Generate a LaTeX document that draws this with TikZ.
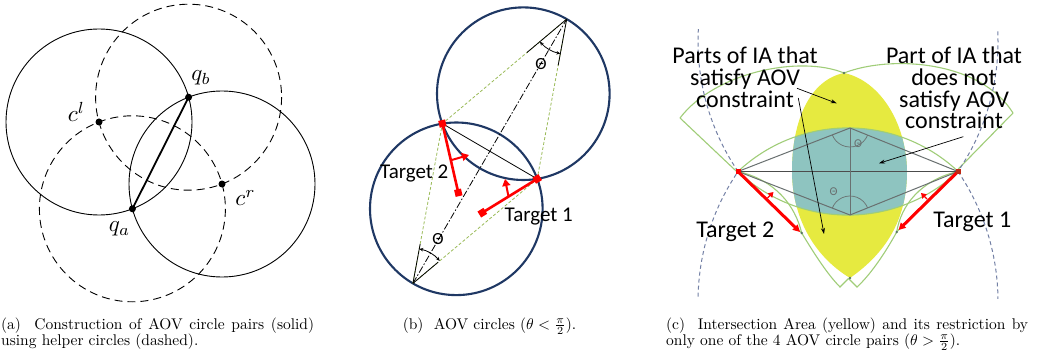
\documentclass[tikz,border=0pt]{standalone}
\usepackage{graphicx}
\usepackage{fontspec}
\newfontfamily\carlito{Carlito}
\usetikzlibrary{calc,arrows.meta}
\definecolor{navy}{RGB}{31,56,100}
\definecolor{olivegreen}{RGB}{155,187,89}
\definecolor{iayellow}{RGB}{230,234,64}
\definecolor{iateal}{RGB}{142,196,192}
\definecolor{lgreen}{RGB}{160,205,120}
\definecolor{rgray}{RGB}{105,112,112}
\definecolor{bgray}{RGB}{115,128,165}
\definecolor{dkred}{RGB}{190,40,20}
\definecolor{dotgreen}{RGB}{90,120,100}
\tikzset{
  solidc/.style={draw=black, line width=0.9},
  helperc/.style={draw=black, line width=0.9, dash pattern=on 8pt off 5pt},
  dotpt/.style={circle, fill=black, inner sep=0, minimum size=7},
  mathlbl/.style={inner sep=0, font=\normalsize},
  aovc/.style={draw=navy, line width=2.1},
  gdash/.style={draw=olivegreen, line width=0.8, dash pattern=on 3pt off 2pt},
  wing/.style={draw=black, line width=0.8},
  angarc/.style={draw=black, line width=0.8, {Stealth[length=4pt,width=3.5pt]}-{Stealth[length=4pt,width=3.5pt]}},
  redseg/.style={draw=red, line width=2.6},
  redmark/.style={rectangle, fill=red, inner sep=0, minimum size=7},
  redtip/.style={draw=red, line width=2, -{Triangle[length=7pt,width=8pt]}},
  tlabel/.style={inner sep=0, font=\carlito\fontsize{21}{21}\selectfont},
  thetalbl/.style={inner sep=0, font=\carlito\fontsize{17}{17}\selectfont},
  bdash/.style={draw=bgray, line width=1, dash pattern=on 4pt off 3pt},
  lgreenl/.style={draw=lgreen, line width=1.1},
  rhomb/.style={draw=rgray, line width=1},
  ctext/.style={inner sep=0, font=\carlito\fontsize{24}{21.7}\selectfont},
  smalltheta/.style={inner sep=0, text=rgray, font=\carlito\fontsize{12}{12}\selectfont},
  blkarrow/.style={draw=black, line width=0.7, -{Stealth[length=6pt,width=4pt]}},
  capfont/.style={inner sep=0, font=\normalsize},
}
\begin{document}
\begin{tikzpicture}[x=1pt,y=-1pt]
\useasboundingbox[fill=white] (0,0) rectangle (1040,358);

% ---------------- panel (a)
\coordinate (cl) at (99,122);
\coordinate (cr) at (222,184);
\coordinate (qb) at (188.6,97.2);
\coordinate (qa) at (132.4,208.8);
\draw[solidc] (cl) circle[radius=93];
\draw[solidc] (cr) circle[radius=93];
\draw[helperc] (qb) circle[radius=93];
\draw[helperc] (qa) circle[radius=93];
\draw[line width=1.8] (qa) -- (qb);
\node[dotpt] (dcl) at (cl) {};
\node[dotpt] (dcr) at (cr) {};
\node[dotpt] (dqa) at (qa) {};
\node[dotpt] (dqb) at (qb) {};
\node[mathlbl] (lcl) at (76.5,112) {\scalebox{2.3}{$c^l$}};
\node[mathlbl] (lqb) at (201,78) {\scalebox{2.3}{$q_b$}};
\node[mathlbl] (lcr) at (245.5,198) {\scalebox{2.3}{$c^r$}};
\node[mathlbl] (lqa) at (119.5,229) {\scalebox{2.3}{$q_a$}};

% ---------------- panel (b)
\coordinate (Ou) at (523.3,93.7);
\coordinate (Ol) at (456.3,208.8);
\coordinate (P1) at (537.2,178.9);
\coordinate (P2) at (442.4,123.6);
\coordinate (U) at (566.7,19.1);
\coordinate (L) at (412.9,283.4);
\draw[aovc] (Ou) circle[radius=86.3];
\draw[aovc] (Ol) circle[radius=86.3];
\draw[gdash] (U) -- (P2);
\draw[gdash] (U) -- (P1);
\draw[gdash] (L) -- (P2);
\draw[gdash] (L) -- (P1);
\draw[draw=black, line width=0.8, dash pattern=on 7pt off 2pt on 1.5pt off 2pt] (L) -- (U);
\draw[line width=0.8] (P2) -- (P1);
\draw[wing] (U) -- ($(U)!52pt!(P2)$);
\draw[wing] (U) -- ($(U)!47pt!(P1)$);
\draw[wing] (L) -- ($(L)!40pt!(P2)$);
\draw[wing] (L) -- ($(L)!33pt!(P1)$);
\draw[angarc] (U) ++(139.94:35) arc[start angle=139.94, end angle=100.46, radius=35];
\draw[angarc] (L) ++(-79.54:35) arc[start angle=-79.54, end angle=-40.06, radius=35];
\coordinate (D2) at (458.3,192.7);
\coordinate (D1) at (482.3,212.7);
\draw[redseg] (P2) -- (D2);
\draw[redseg] (P1) -- (D1);
\node[redmark, rotate=13] (mP2) at (P2) {};
\node[redmark, rotate=13] (mD2) at (D2) {};
\node[redmark, rotate=31.6] (mP1) at (P1) {};
\node[redmark, rotate=31.6] (mD1) at (D1) {};
\coordinate (s2a) at (451.7,160);
\coordinate (s2b) at (469,155);
\coordinate (s1a) at (508.5,196.5);
\coordinate (s1b) at (505,179);
\draw[redtip] (s2a) -- (s2b);
\draw[redtip] (s1a) -- (s1b);
\node[tlabel, anchor=base] (tg2b) at (414.3,178.3) {Target 2};
\node[tlabel, anchor=base] (tg1b) at (538.8,221.7) {Target 1};
\node[thetalbl] (thb1) at (541,63.7) {Θ};
\node[thetalbl] (thb2) at (438,239) {Θ};

% ---------------- panel (c)
\coordinate (T2) at (738,171.5);
\coordinate (T1) at (958,171.5);
\coordinate (A) at (850,128);
\coordinate (B) at (850,215);
\fill[iayellow] (844,73) .. controls (878,80) and (906,120) .. (907,171)
   .. controls (907,215) and (890,250) .. (850,278)
   .. controls (812,255) and (792,215) .. (792,171)
   .. controls (792,120) and (810,80) .. (844,73) -- cycle;
\begin{scope}
\clip (844,73) .. controls (878,80) and (906,120) .. (907,171)
   .. controls (907,215) and (890,250) .. (850,278)
   .. controls (812,255) and (792,215) .. (792,171)
   .. controls (792,120) and (810,80) .. (844,73) -- cycle;
\fill[iateal] (T2) arc[start angle=226.8, end angle=313.2, radius=160.8]
   arc[start angle=46.8, end angle=133.2, radius=160.8] -- cycle;
\end{scope}
% green outlines
\draw[lgreenl] (T2) arc[start angle=226.8, end angle=313.2, radius=160.8];
\draw[lgreenl] (T1) arc[start angle=46.8, end angle=133.2, radius=160.8];
\coordinate (gl) at (680,118);
\coordinate (gr) at (1013,113);
\coordinate (gt) at (844,73);
\coordinate (gb) at (848.5,278.5);
\coordinate (yl) at (801.7,233);
\coordinate (yr) at (896.7,232);
\draw[lgreenl] (gl) .. controls (715,72) and (800,55) .. (gt)
   .. controls (890,55) and (980,60) .. (gr);
\draw[lgreenl] (gl) -- (yl) .. controls (815,255) and (828,275) .. (840,287) -- (gb);
\draw[lgreenl] (gr) -- (yr) .. controls (884,255) and (870,275) .. (857,287) -- (gb);
\draw[lgreenl] (T2) .. controls (775,180) and (795,205) .. (yl);
\draw[lgreenl] (T1) .. controls (921,180) and (901,205) .. (yr);
\foreach \p in {gt,yl,yr} \fill[dotgreen] (\p) circle[radius=1.4];
\fill[dotgreen] (850,278) circle[radius=1.4];
% gray construction
\draw[rhomb] (T2) -- (A) -- (T1) -- (B) -- cycle;
\draw[draw=black!70, line width=1] (T2) -- (T1);
\draw[rhomb] (A) -- (B);
\draw[rhomb, line width=0.7] (A) ++(158.8:19) arc[start angle=158.8, end angle=21.9, radius=19];
\draw[rhomb, line width=0.7] (B) ++(201.2:19) arc[start angle=201.2, end angle=338.1, radius=19];
\node[smalltheta] (thc1) at (858,143.8) {Θ};
\node[smalltheta] (thc2) at (833.7,191.2) {Θ};
% dashed big circles
\begin{scope}
\clip (640,30) rectangle (1040,298);
\draw[bdash] (929,41.5) ++(145.76:231) arc[start angle=145.76, end angle=186, radius=231];
\draw[bdash] (929,301.5) ++(176:231) arc[start angle=176, end angle=214.24, radius=231];
\draw[bdash] (767,41.5) ++(-6:231) arc[start angle=-6, end angle=34.24, radius=231];
\draw[bdash] (767,301.5) ++(-34.24:231) arc[start angle=-34.24, end angle=4, radius=231];
\end{scope}
% red
\coordinate (E2) at (800,232);
\coordinate (E1) at (898.5,230);
\draw[draw=red, line width=3, -{Triangle[length=7pt,width=7pt]}] (T2) -- (E2);
\draw[draw=red, line width=3, -{Triangle[length=7pt,width=7pt]}] (T1) -- (E1);
\coordinate (r2a) at (767.5,198);
\coordinate (r2b) at (773.5,192);
\coordinate (r1a) at (927,199);
\coordinate (r1b) at (921,193);
\draw[draw=red, line width=1.2, -{Triangle[length=5pt,width=6pt]}] (r2a) -- (r2b);
\draw[draw=red, line width=1.2, -{Triangle[length=5pt,width=6pt]}] (r1a) -- (r1b);
\node[rectangle, fill=red, inner sep=0, minimum size=5] (mT2) at (T2) {};
\node[rectangle, fill=dkred, inner sep=0, minimum size=5] (mT1) at (T1) {};
% texts
\node[ctext, anchor=north, align=center] (tsat) at (745,47) {Parts of IA that\\satisfy AOV\\constraint};
\node[ctext, anchor=north, align=center] (tnot) at (954,47) {Part of IA that\\does not\\satisfy AOV\\constraint};
\node[ctext, anchor=base] (tg2c) at (735.3,237) {Target 2};
\node[ctext, anchor=base] (tg1c) at (972.3,227.5) {Target 1};
\coordinate (a1s) at (797,88.3);
\coordinate (a1e) at (836.7,103.3);
\coordinate (a2s) at (798.3,98);
\coordinate (a2e) at (824,234);
\coordinate (a3s) at (963.3,136.7);
\coordinate (a3e) at (879,163.3);
\draw[blkarrow] (a1s) -- (a1e);
\draw[blkarrow] (a2s) -- (a2e);
\draw[blkarrow] (a3s) -- (a3e);

% ---------------- captions (10pt text scaled by 1.55)
\node[capfont, anchor=base west] (capa1) at (1,329.5) {\scalebox{1.55}{\makebox[201.9pt][s]{(a)\ \ Construction of AOV circle pairs (solid)}}};
\node[capfont, anchor=base west] (capa2) at (1,345.5) {\scalebox{1.55}{using helper circles (dashed).}};
\node[capfont, anchor=base] (capb) at (489.5,329.5) {\scalebox{1.55}{(b)\ \ AOV circles ($\theta<\frac{\pi}{2}$).}};
\node[capfont, anchor=base west] (capc1) at (666,329.5) {\scalebox{1.55}{\makebox[233.5pt][s]{(c)\ \ Intersection Area (yellow) and its restriction by}}};
\node[capfont, anchor=base west] (capc2) at (666,345.5) {\scalebox{1.55}{only one of the 4 AOV circle pairs ($\theta>\frac{\pi}{2}$).}};
\end{tikzpicture}
\end{document}
